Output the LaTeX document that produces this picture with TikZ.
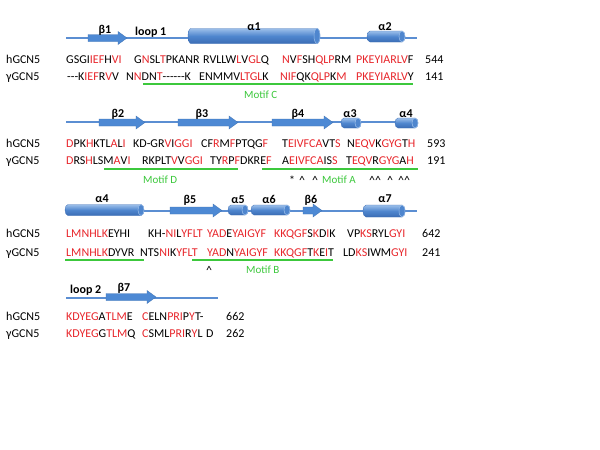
\documentclass[tikz,border=0pt]{standalone}
\usepackage{fontspec}
\setmainfont{Carlito}
\definecolor{seqred}{HTML}{E8262B}
\definecolor{motifgreen}{HTML}{3CC83C}
\definecolor{ssline}{HTML}{5B8ED2}
\definecolor{hlxlight}{HTML}{9CBFEA}
\definecolor{hlxmid}{HTML}{4F86CE}
\definecolor{hlxdark}{HTML}{3B6DB5}
\definecolor{strandblue}{HTML}{4D89D4}
\newcommand\R[1]{\textcolor{seqred}{#1}}
\tikzset{
  seq/.style={anchor=base west, inner sep=0pt, font=\fontsize{12}{14}\selectfont},
  sslabel/.style={anchor=base, inner sep=0pt, font=\fontsize{12}{14}\selectfont\bfseries},
  motif/.style={anchor=base west, inner sep=0pt, text=motifgreen, font=\fontsize{11}{13}\selectfont},
  motifline/.style={motifgreen, line width=1.5pt},
  backbone/.style={ssline, line width=1.8pt},
  helixbody/.style={top color=hlxlight, bottom color=hlxdark, middle color=hlxmid, draw=hlxdark, line width=0.3pt},
  helixcap/.style={fill=hlxmid, draw=hlxlight, line width=0.5pt},
  strandbody/.style={fill=strandblue, draw=strandblue!85!black, line width=0.3pt}
}
% helix: left x, right x, centre y, half height
\newcommand\helix[4]{%
  \shade[helixbody] (#1+3,#3-#4) -- (#2-3,#3-#4)
    .. controls (#2-1.3,#3-#4) and (#2,#3-0.55*#4) .. (#2,#3)
    .. controls (#2,#3+0.55*#4) and (#2-1.3,#3+#4) .. (#2-3,#3+#4)
    -- (#1+3,#3+#4)
    .. controls (#1+1.3,#3+#4) and (#1,#3+0.55*#4) .. (#1,#3)
    .. controls (#1,#3-0.55*#4) and (#1+1.3,#3-#4) .. cycle;
  \draw[helixcap] (#2-3,#3) ellipse (3pt and #4pt);
}
% strand: from x, to x, centre y
\newcommand\strand[3]{%
  \draw[strandbody] (#1,#3-3.5) -- (#2-9,#3-3.5) -- (#2-9,#3-6.5) -- (#2,#3)
    -- (#2-9,#3+6.5) -- (#2-9,#3+3.5) -- (#1,#3+3.5) -- cycle;
}
\begin{document}
\begin{tikzpicture}[x=1pt, y=-1pt]
  \fill[white] (0,0) rectangle (600,450);
  \useasboundingbox (0,0) rectangle (600,450);

  % block 1
  \draw[backbone] (66,38) -- (417,38);
  \strand{88}{127}{38}
  \helix{188}{320}{36}{7.5}
  \helix{367}{405}{36.5}{5.5}
  \node[sslabel] (b1) at (105,33) {β1};
  \node[sslabel, anchor=base west] (l1) at (135,35) {loop 1};
  \node[sslabel] (a1) at (254,30) {α1};
  \node[sslabel] (a2) at (385,30) {α2};

  \node[seq] (h1) at (6,63) {hGCN5};
  \node[seq] (h1a) at (66,63) {GSGI\R{IEF}H\R{VI}};
  \node[seq] (h1b) at (134,63) {G\R{N}SL\R{T}PKANR};
  \node[seq] (h1c) at (203,63) {RVLLW\R{L}V\R{GL}Q};
  \node[seq] (h1d) at (282,63) {\R{N}V\R{F}SH\R{QLP}RM};
  \node[seq] (h1e) at (356,63) {\R{PKEYIARLV}F};
  \node[seq] (h1n) at (425,63) {544};
  \node[seq] (y1) at (6,80) {γGCN5};
  \node[seq] (y1a) at (67,80) {-{}-{}-K\R{IEF}R\R{V}V};
  \node[seq] (y1b) at (126,80) {N\R{N}DN\R{T}-{}-{}-{}-{}-{}-K};
  \node[seq] (y1c) at (199,80) {ENMMV\R{LTGL}K};
  \node[seq] (y1d) at (280,80) {\R{NIF}QK\R{QLP}K\R{M}};
  \node[seq] (y1e) at (356,80) {\R{PKEYIARLV}Y};
  \node[seq] (y1n) at (425,80) {141};
  \draw[motifline] (143,84) -- (413,84);
  \node[motif] (mC) at (244,98) {Motif C};

  % block 2
  \draw[backbone] (66,122) -- (418,122);
  \strand{99}{145}{122.5}
  \strand{178}{238}{122.5}
  \strand{272}{333}{122.5}
  \helix{341}{361}{123}{5}
  \helix{395}{418}{123}{5}
  \node[sslabel] (b2) at (118,117) {β2};
  \node[sslabel] (b3) at (202,117) {β3};
  \node[sslabel] (b4) at (298,117) {β4};
  \node[sslabel] (a3) at (350,117) {α3};
  \node[sslabel] (a4) at (406,117) {α4};

  \node[seq] (h2) at (6,147) {hGCN5};
  \node[seq] (h2a) at (66,147) {\R{D}PK\R{H}KTL\R{A}L\R{I}};
  \node[seq] (h2b) at (133,147) {KD-GR\R{V}I\R{GGI}};
  \node[seq] (h2c) at (201,147) {CF\R{R}M\R{F}PTQG\R{F}};
  \node[seq] (h2d) at (282,147) {T\R{EIVFCA}VT\R{S}};
  \node[seq] (h2e) at (347,147) {N\R{EQV}K\R{GYG}T\R{H}};
  \node[seq] (h2n) at (427,147) {593};
  \node[seq] (y2) at (6,164) {γGCN5};
  \node[seq] (y2a) at (66,164) {\R{D}RS\R{H}LSM\R{A}V\R{I}};
  \node[seq] (y2b) at (142,164) {RKPLT\R{V}V\R{GGI}};
  \node[seq] (y2c) at (210,164) {TY\R{R}P\R{F}DKRE\R{F}};
  \node[seq] (y2d) at (282,164) {A\R{EIVFCA}IS\R{S}};
  \node[seq] (y2e) at (346,164) {T\R{EQV}R\R{GYG}A\R{H}};
  \node[seq] (y2n) at (427,164) {191};
  \draw[motifline] (104,169) -- (238,169);
  \draw[motifline] (262,169) -- (418,169);
  \node[motif] (mD) at (143,183) {Motif D};
  \node[seq] (s1) at (289,184) {*};
  \node[seq] (c1) at (299,184) {\textasciicircum};
  \node[seq] (c2) at (312,184) {\textasciicircum};
  \node[motif] (mA) at (322,183) {Motif A};
  \node[seq] (c3) at (369,184) {\textasciicircum\textasciicircum};
  \node[seq] (c4) at (387,184) {\textasciicircum};
  \node[seq] (c5) at (398,184) {\textasciicircum\textasciicircum};

  % block 3
  \draw[backbone] (66,211) -- (417,211);
  \helix{65}{144}{210}{5.5}
  \strand{170}{222}{210.5}
  \helix{228}{248}{210}{5}
  \helix{251}{290}{210}{5}
  \strand{303}{322}{210.5}
  \helix{363}{405}{211}{6}
  \node[sslabel] (a4b) at (102,202) {α4};
  \node[sslabel] (b5) at (190,203) {β5};
  \node[sslabel] (a5) at (238,203) {α5};
  \node[sslabel] (a6) at (269,203) {α6};
  \node[sslabel] (b6) at (311,203) {β6};
  \node[sslabel] (a7) at (385,202) {α7};

  \node[seq] (h3) at (6,237) {hGCN5};
  \node[seq] (h3a) at (66,237) {\R{LMNHLK}EYHI};
  \node[seq] (h3b) at (148,237) {KH-\R{NI}L\R{YFLT}};
  \node[seq] (h3c) at (207,237) {\R{YAD}E\R{YAIGYF}};
  \node[seq] (h3d) at (274,237) {\R{KKQGF}S\R{K}D\R{I}K};
  \node[seq] (h3e) at (347,237) {VP\R{KS}RYL\R{GYI}};
  \node[seq] (h3n) at (422,237) {642};
  \node[seq] (y3) at (6,256) {γGCN5};
  \node[seq] (y3a) at (66,256) {\R{LMNHLK}DYVR};
  \node[seq] (y3b) at (140,256) {NTS\R{NI}K\R{YFLT}};
  \node[seq] (y3c) at (207,256) {\R{YAD}N\R{YAIGYF}};
  \node[seq] (y3d) at (274,256) {\R{KKQGF}T\R{K}E\R{I}T};
  \node[seq] (y3e) at (343,256) {LD\R{KS}IWM\R{GYI}};
  \node[seq] (y3n) at (422,256) {241};
  \draw[motifline] (65,260) -- (144,260);
  \draw[motifline] (192,260) -- (333,260);
  \node[seq] (c6) at (206,274) {\textasciicircum};
  \node[motif] (mB) at (246,273) {Motif B};

  % block 4
  \draw[backbone] (66,298) -- (218,298);
  \strand{106}{156}{297}
  \node[sslabel, anchor=base west] (l2) at (70,293) {loop 2};
  \node[sslabel] (b7) at (124,291) {β7};

  \node[seq] (h4) at (6,320) {hGCN5};
  \node[seq] (h4a) at (66,320) {\R{KDYEG}A\R{TLM}E};
  \node[seq] (h4b) at (142,320) {\R{C}ELN\R{PRI}P\R{Y}T-};
  \node[seq] (h4n) at (226,320) {662};
  \node[seq] (y4) at (6,337) {γGCN5};
  \node[seq] (y4a) at (66,337) {\R{KDYEG}G\R{TLM}Q};
  \node[seq] (y4b) at (142,337) {\R{C}SML\R{PRI}R\R{Y}L};
  \node[seq] (y4c) at (206,337) {D};
  \node[seq] (y4n) at (226,337) {262};
\end{tikzpicture}
\end{document}
